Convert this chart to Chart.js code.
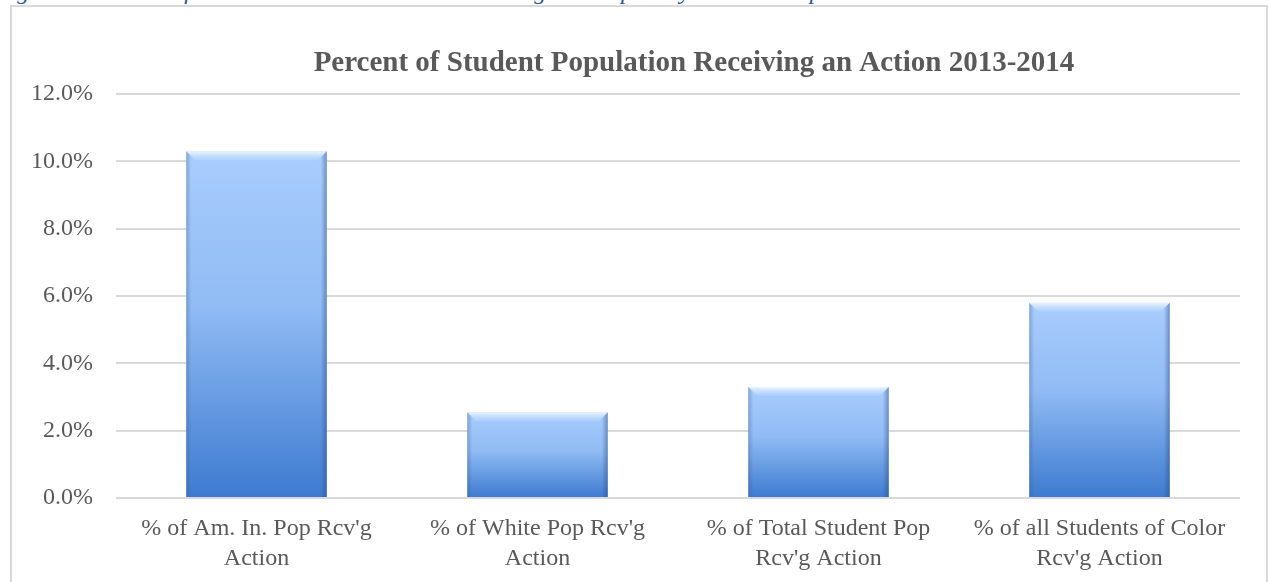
<!DOCTYPE html>
<html>
<head>
<meta charset="utf-8">
<script src="https://cdn.jsdelivr.net/npm/chart.js@4.4.1/dist/chart.umd.min.js"></script>
<style>
  html, body { margin: 0; padding: 0; background: #fff; overflow: hidden; }
  #wrap { position: relative; width: 1269px; height: 582px; }
  #caption { position: absolute; left: -4px; top: -22px; font-family: "Liberation Serif", serif; font-style: italic; font-size: 24px; color: #2F5496; white-space: nowrap; }
  #frame { position: absolute; left: 10px; top: 5px; width: 1254px; height: 600px; border: 2px solid #d9d9d9; background: transparent; }
  canvas { position: absolute; left: 0; top: 0; }
</style>
</head>
<body>
<div id="wrap">
  <div id="caption">Figure 6: Percent of American Indian Students Receiving a Disciplinary Action Comparison</div>
  <div id="frame"></div>
  <canvas id="c" width="1269" height="582"></canvas>
</div>
<script>
const chartTitle = "Percent of Student Population Receiving an Action 2013-2014";
const categories = [
  ["% of Am. In. Pop Rcv'g", "Action"],
  ["% of White Pop Rcv'g", "Action"],
  ["% of Total Student Pop", "Rcv'g Action"],
  ["% of all Students of Color", "Rcv'g Action"]
];
const percentValues = [10.3, 2.55, 3.3, 5.8];
const yMin = 0, yMax = 12, yStep = 2;

const FONT = '"Liberation Serif", serif';

function barGradient(ctx) {
  const chart = ctx.chart;
  const ys = chart.scales.y;
  if (!ys || !chart.chartArea || ctx.type !== 'data') return '#7fb0f0';
  const top = ys.getPixelForValue(ctx.raw);
  const bot = ys.getPixelForValue(0);
  const g = chart.ctx.createLinearGradient(0, top, 0, bot);
  g.addColorStop(0, '#a9cdfd');
  g.addColorStop(0.45, '#90bbf4');
  g.addColorStop(1, '#3d7ad0');
  return g;
}

const bevelPlugin = {
  id: 'bevel',
  afterDatasetsDraw(chart) {
    const c = chart.ctx;
    const meta = chart.getDatasetMeta(0);
    meta.data.forEach(el => {
      const p = el.getProps(['x', 'y', 'base', 'width'], true);
      const l = p.x - p.width / 2, r = p.x + p.width / 2, t = p.y, b = p.base;
      const bv = 9;
      c.save();
      let g = c.createLinearGradient(0, t, 0, t + bv);
      g.addColorStop(0, 'rgba(240,248,255,0.95)');
      g.addColorStop(1, 'rgba(200,225,255,0.2)');
      c.fillStyle = g;
      c.beginPath(); c.moveTo(l, t); c.lineTo(r, t); c.lineTo(r - bv, t + bv); c.lineTo(l + bv, t + bv); c.closePath(); c.fill();
      g = c.createLinearGradient(l, 0, l + 5, 0);
      g.addColorStop(0, 'rgba(60,90,140,0.35)');
      g.addColorStop(1, 'rgba(60,90,140,0)');
      c.fillStyle = g;
      c.beginPath(); c.moveTo(l, t); c.lineTo(l + bv, t + bv); c.lineTo(l + 5, t + bv); c.lineTo(l + 5, b); c.lineTo(l, b); c.closePath(); c.fill();
      g = c.createLinearGradient(r - 6, 0, r, 0);
      g.addColorStop(0, 'rgba(40,70,120,0)');
      g.addColorStop(1, 'rgba(40,70,120,0.45)');
      c.fillStyle = g;
      c.beginPath(); c.moveTo(r, t); c.lineTo(r - bv, t + bv); c.lineTo(r - 6, t + bv); c.lineTo(r - 6, b); c.lineTo(r, b); c.closePath(); c.fill();
      c.restore();
    });
  }
};

const titlePlugin = {
  id: 'customTitle',
  afterDraw(chart) {
    const c = chart.ctx;
    c.save();
    c.font = 'bold 29px ' + FONT;
    c.fillStyle = '#595959';
    c.textAlign = 'center';
    c.textBaseline = 'middle';
    c.fillText(chartTitle, 694, 64);
    c.restore();
  }
};

new Chart(document.getElementById('c'), {
  type: 'bar',
  data: {
    labels: categories,
    datasets: [{
      data: percentValues,
      backgroundColor: barGradient,
      borderWidth: 0,
      barPercentage: 0.5,
      categoryPercentage: 1.0
    }]
  },
  options: {
    responsive: false,
    animation: false,
    devicePixelRatio: 1,
    layout: { padding: { left: 0, right: 29, top: 94, bottom: 0 } },
    plugins: { legend: { display: false }, title: { display: false }, tooltip: { enabled: false } },
    scales: {
      x: {
        grid: { display: false, drawTicks: false },
        border: { display: false },
        ticks: { color: '#595959', font: { family: FONT, size: 24, lineHeight: 1.25 }, padding: 16, maxRotation: 0, autoSkip: false },
        afterFit(s) { s.height = 84; }
      },
      y: {
        min: yMin, max: yMax,
        grid: { color: '#d9d9d9', lineWidth: 2, drawTicks: false },
        border: { display: false },
        ticks: { stepSize: yStep, color: '#595959', font: { family: FONT, size: 24 }, padding: 23,
          callback: v => v.toFixed(1) + '%' },
        afterFit(s) { s.width = 116; }
      }
    }
  },
  plugins: [bevelPlugin, titlePlugin]
});
</script>
</body>
</html>
